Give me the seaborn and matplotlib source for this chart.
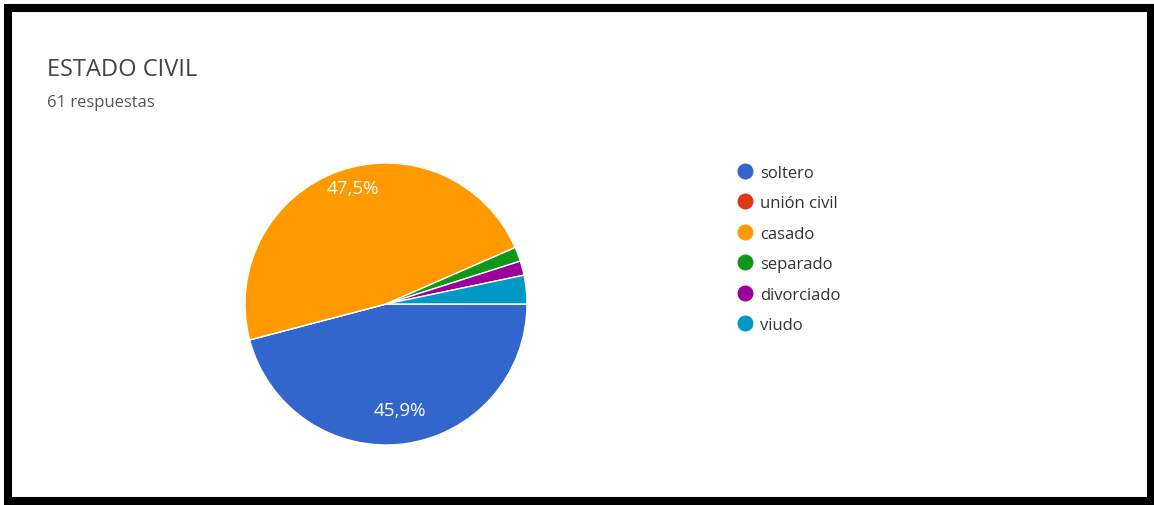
import matplotlib
matplotlib.use("Agg")
import numpy as np
import matplotlib.pyplot as plt
from matplotlib.lines import Line2D
from matplotlib.patches import Rectangle
import seaborn as sns

categories = ["soltero", "unión civil", "casado", "separado", "divorciado", "viudo"]
counts = [28, 0, 29, 1, 1, 2]
colors = ["#3366CC", "#DC3912", "#FF9900", "#109618", "#990099", "#0099C6"]
title = "ESTADO CIVIL"
subtitle = "61 respuestas"

sns.set_theme(style="white")
plt.rcParams['font.family'] = ['Open Sans', 'DejaVu Sans']

W, H = 1154, 506
fig = plt.figure(figsize=(W / 100, H / 100), dpi=100)
fig.patch.set_facecolor("white")

cx, cy, r = 386, 305, 141
ax = fig.add_axes([(cx - r) / W, (H - cy - r) / H, 2 * r / W, 2 * r / H])

def fmt(p):
    return (f"{p:.1f}%".replace(".", ",")) if p > 10 else ""

wedges, texts, autotexts = ax.pie(
    counts, colors=colors, startangle=0, counterclock=False,
    autopct=fmt, pctdistance=0.8,
    wedgeprops=dict(edgecolor="white", linewidth=1),
    textprops=dict(color="white", fontsize=13.5),
)
# label distances per slice (Google places the big label further out)
label_dist = {"casado": 0.87, "soltero": 0.76}
for w, t, name in zip(wedges, autotexts, categories):
    if name in label_dist:
        ang = np.deg2rad((w.theta1 + w.theta2) / 2)
        d = label_dist[name]
        t.set_position((d * np.cos(ang) + (0.05 if name == "casado" else 0.0),
                        d * np.sin(ang)))

ax.set_xlim(-1, 1)
ax.set_ylim(-1, 1)
ax.set_aspect("equal")
ax.axis("off")

# Title and subtitle
fig.text(47 / W, 1 - 70 / H, title, fontsize=17, color="#444444", va="center", ha="left")
fig.text(47 / W, 1 - 103 / H, subtitle, fontsize=12, color="#555555", va="center", ha="left")

# Legend
handles = [Line2D([0], [0], marker="o", linestyle="", markersize=10.5,
                  markerfacecolor=c, markeredgecolor=c) for c in colors]
leg = fig.legend(handles, categories, loc="upper left",
                 bbox_to_anchor=(730 / W, 1 - 159 / H), frameon=False,
                 fontsize=12, labelspacing=0.87, handletextpad=0.4,
                 handlelength=1.0, borderaxespad=0)
for t in leg.get_texts():
    t.set_color("#333333")

# Outer frame
fig.patches.append(Rectangle((7.5 / W, 4 / H), (1151 - 7.5) / W, (502 - 9) / H,
                             transform=fig.transFigure, fill=False,
                             edgecolor="black", linewidth=5.8))

fig.savefig("out.png", dpi=100)
